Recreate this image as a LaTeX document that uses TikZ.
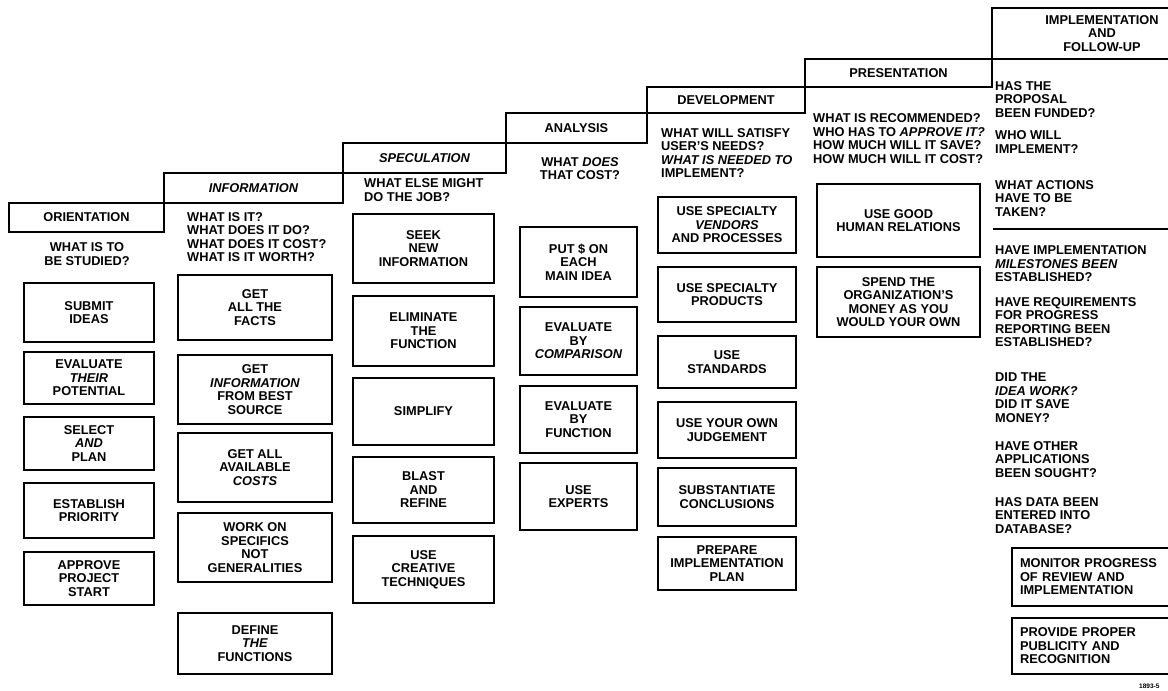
\documentclass[tikz,border=0pt]{standalone}
\usepackage{fontspec}
\setmainfont{Liberation Sans}
\usepackage{tikz}
\usetikzlibrary{positioning}

\newcommand\lbl{\bfseries\fontsize{12.8}{13.5}\selectfont}
\tikzset{
	stepbox/.style={draw, line width=1.8pt, outer sep=0pt, inner sep=0pt, align=center, font=\lbl},
	act/.style={draw, line width=1.3pt, outer sep=0pt, inner sep=0pt, align=center, font=\lbl},
	ask/.style={inner sep=0pt, align=left, font=\lbl},
	lastact/.style={act, anchor=west, align=left, text width=160pt, inner xsep=8pt},
}

\begin{document}
\begin{tikzpicture}[x=1pt,y=-1pt]
	\useasboundingbox (0,0) rectangle (1168,691);

	% the phases, stepping up to the right
	\node[stepbox, minimum width=155, minimum height=29] (orient) at (86.5,217.5) {ORIENTATION};
	\node[stepbox, minimum width=179, minimum height=30, anchor=south west] (inform) at (orient.north east) {\itshape INFORMATION};
	\node[stepbox, minimum width=163, minimum height=30, anchor=south west] (specul) at (inform.north east) {\itshape SPECULATION};
	\node[stepbox, minimum width=141, minimum height=30, anchor=south west] (analys) at (specul.north east) {ANALYSIS};
	\node[stepbox, minimum width=158, minimum height=26, anchor=south west] (develop) at (analys.north east) {DEVELOPMENT};
	\node[stepbox, minimum width=187, minimum height=28, anchor=south west] (present) at (develop.north east) {PRESENTATION};
	\node[stepbox, minimum width=220, minimum height=51, anchor=south west] (implem) at (present.north east) {IMPLEMENTATION\\AND\\FOLLOW-UP};

	% questions
	\node[ask, align=center] (q-orient) at (87,254) {WHAT IS TO\\BE STUDIED?};
	\node[ask, anchor=west] (q-inform) at (187,237) {WHAT IS IT?\\WHAT DOES IT DO?\\WHAT DOES IT COST?\\WHAT IS IT WORTH?};
	\node[ask, anchor=west] (q-specul) at (364,190) {WHAT ELSE MIGHT\\DO THE JOB?};
	\node[ask, align=center] (q-analys) at (580,168.5) {WHAT \textit{DOES}\\THAT COST?};
	\node[ask, anchor=west] (q-develop) at (661,153) {WHAT WILL SATISFY\\USER'S NEEDS?\\\textit{WHAT IS NEEDED TO}\\IMPLEMENT?};
	\node[ask, anchor=west] (q-present) at (813,138.5) {WHAT IS RECOMMENDED?\\WHO HAS TO \textit{APPROVE IT?}\\HOW MUCH WILL IT SAVE?\\HOW MUCH WILL IT COST?};

	\node[ask, anchor=west] (q-funded) at (995,99.5) {HAS THE\\PROPOSAL\\BEEN FUNDED?};
	\node[ask, anchor=west] (q-who) at (995,142) {WHO WILL\\IMPLEMENT?};
	\node[ask, anchor=west] (q-actions) at (995,198.5) {WHAT ACTIONS\\HAVE TO BE\\TAKEN?};
	\coordinate (rule-l) at (993,229);
	\coordinate (rule-r) at (1170,229);
	\draw[line width=1.3pt] (rule-l) -- (rule-r);
	\node[ask, anchor=west] (q-miles) at (995,264) {HAVE IMPLEMENTATION\\\textit{MILESTONES BEEN}\\ESTABLISHED?};
	\node[ask, anchor=west] (q-report) at (995,322) {HAVE REQUIREMENTS\\FOR PROGRESS\\REPORTING BEEN\\ESTABLISHED?};
	\node[ask, anchor=west] (q-idea) at (995,397.5) {DID THE\\\textit{IDEA WORK?}\\DID IT SAVE\\MONEY?};
	\node[ask, anchor=west] (q-other) at (995,459.5) {HAVE OTHER\\APPLICATIONS\\BEEN SOUGHT?};
	\node[ask, anchor=west] (q-data) at (995,515.5) {HAS DATA BEEN\\ENTERED INTO\\DATABASE?};

	% orientation
	\node[act, minimum width=130, minimum height=59] (submit) at (89,312.5) {SUBMIT\\IDEAS};
	\node[act, minimum width=130, minimum height=52] (potential) at (89,378) {EVALUATE\\\textit{THEIR}\\POTENTIAL};
	\node[act, minimum width=130, minimum height=53] (select) at (89,443.5) {SELECT\\\textit{AND}\\PLAN};
	\node[act, minimum width=130, minimum height=55] (priority) at (89,510.5) {ESTABLISH\\PRIORITY};
	\node[act, minimum width=130, minimum height=53] (approve) at (89,578.5) {APPROVE\\PROJECT\\START};

	% information
	\node[act, minimum width=154, minimum height=65] (facts) at (255,307.5) {GET\\ALL THE\\FACTS};
	\node[act, minimum width=154, minimum height=69] (source) at (255,389.5) {GET\\\textit{INFORMATION}\\FROM BEST\\SOURCE};
	\node[act, minimum width=154, minimum height=69] (costs) at (255,467.5) {GET ALL\\AVAILABLE\\\textit{COSTS}};
	\node[act, minimum width=154, minimum height=69] (specifics) at (255,547.5) {WORK ON\\SPECIFICS\\NOT\\GENERALITIES};
	\node[act, minimum width=154, minimum height=61] (define) at (255,643.5) {DEFINE\\\textit{THE}\\FUNCTIONS};

	% speculation
	\node[act, minimum width=141, minimum height=69] (seek) at (423.5,248.5) {SEEK\\NEW\\INFORMATION};
	\node[act, minimum width=141, minimum height=70] (eliminate) at (423.5,331) {ELIMINATE\\THE\\FUNCTION};
	\node[act, minimum width=141, minimum height=67] (simplify) at (423.5,411.5) {SIMPLIFY};
	\node[act, minimum width=141, minimum height=66] (blast) at (423.5,490) {BLAST\\AND\\REFINE};
	\node[act, minimum width=141, minimum height=67] (creative) at (423.5,569.5) {USE\\CREATIVE\\TECHNIQUES};

	% analysis
	\node[act, minimum width=117, minimum height=70] (dollar) at (578.5,262) {PUT \$ ON\\EACH\\MAIN IDEA};
	\node[act, minimum width=117, minimum height=68] (compare) at (578.5,341) {EVALUATE\\BY\\\textit{COMPARISON}};
	\node[act, minimum width=117, minimum height=67] (byfunc) at (578.5,419.5) {EVALUATE\\BY\\FUNCTION};
	\node[act, minimum width=117, minimum height=67] (experts) at (578.5,496.5) {USE\\EXPERTS};

	% development
	\node[act, minimum width=138, minimum height=56] (vendors) at (727,225) {USE SPECIALTY\\\textit{VENDORS}\\AND PROCESSES};
	\node[act, minimum width=138, minimum height=55] (products) at (727,294.5) {USE SPECIALTY\\PRODUCTS};
	\node[act, minimum width=138, minimum height=52] (standards) at (727,362) {USE\\STANDARDS};
	\node[act, minimum width=138, minimum height=56] (judge) at (727,430) {USE YOUR OWN\\JUDGEMENT};
	\node[act, minimum width=138, minimum height=58] (substant) at (727,497) {SUBSTANTIATE\\CONCLUSIONS};
	\node[act, minimum width=138, minimum height=53] (prepare) at (727,563.5) {PREPARE\\IMPLEMENTATION\\PLAN};

	% presentation
	\node[act, minimum width=163, minimum height=73] (relations) at (898.5,220.5) {USE GOOD\\HUMAN RELATIONS};
	\node[act, minimum width=163, minimum height=70] (spend) at (898.5,302) {SPEND THE\\ORGANIZATION'S\\MONEY AS YOU\\WOULD YOUR OWN};

	% implementation and follow-up
	\node[lastact, minimum height=58] (monitor) at (1012,577) {MONITOR PROGRESS\\OF REVIEW AND\\IMPLEMENTATION};
	\node[lastact, minimum height=56] (publicity) at (1012,646) {PROVIDE PROPER\\PUBLICITY AND\\RECOGNITION};

	\node[inner sep=0pt, anchor=west, font=\bfseries\fontsize{6.5}{7}\selectfont] (figno) at (1139,686) {1893-5};
\end{tikzpicture}
\end{document}
